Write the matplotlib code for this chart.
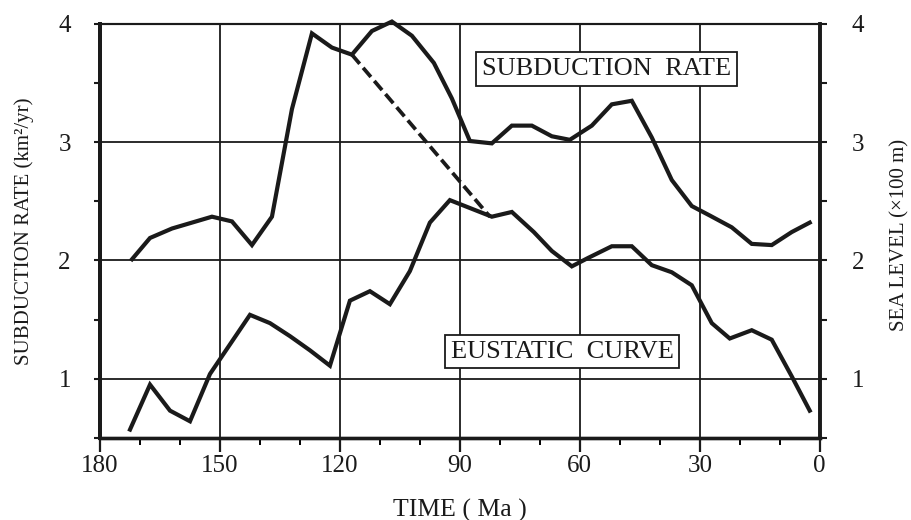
import numpy as np
import matplotlib
matplotlib.use("Agg")
import matplotlib.pyplot as plt
from matplotlib.ticker import MultipleLocator

plt.rcParams['font.family'] = ['Liberation Serif', 'DejaVu Serif']

# subduction rate (km2/yr), left axis
sub_age = [172, 167.5, 162, 152, 147, 142, 137, 132, 127, 122, 117, 112, 107,
           102, 96.5, 92, 87.5, 82, 77, 72, 67, 62.5, 57, 52, 47, 42, 37, 32,
           27.5, 22, 17, 12, 7, 2.5]
sub_rate = [2.01, 2.19, 2.27, 2.37, 2.33, 2.13, 2.37, 3.28, 3.92, 3.80, 3.74,
            3.94, 4.02, 3.90, 3.67, 3.37, 3.01, 2.99, 3.14, 3.14, 3.05, 3.02,
            3.14, 3.32, 3.35, 3.04, 2.68, 2.46, 2.38, 2.28, 2.14, 2.13, 2.24,
            2.32]

# eustatic curve, sea level (x100 m), right axis
sea_age = [172.5, 167.5, 162.5, 157.5, 152.5, 142.5, 137.5, 132.5, 127.5,
           122.5, 117.5, 112.5, 107.5, 102.5, 97.5, 92.5, 82, 77, 71.5, 67,
           62, 58, 52, 47, 42, 37, 32, 27, 22.5, 17, 12, 7, 2.5]
sea_level = [0.57, 0.95, 0.73, 0.64, 1.04, 1.54, 1.47, 1.36, 1.24, 1.11, 1.66,
             1.74, 1.63, 1.91, 2.32, 2.51, 2.37, 2.41, 2.24, 2.08, 1.95, 2.02,
             2.12, 2.12, 1.96, 1.90, 1.79, 1.47, 1.34, 1.41, 1.33, 1.02, 0.73]

# dashed link between the two curves
dash_age = [117, 82.5]
dash_val = [3.74, 2.37]

ink = '#1a1a1a'

fig = plt.figure(figsize=(9.11, 5.20), dpi=100)
ax = fig.add_axes([0.1098, 0.158, 0.790, 0.796])
ax2 = ax.twinx()

ax.set_xlim(180, 0)
ax.set_ylim(0.5, 4)
ax2.set_ylim(0.5, 4)

ax.plot(sub_age, sub_rate, color=ink, lw=3.0, solid_joinstyle='miter',
        clip_on=False, zorder=3)
ax2.plot(sea_age, sea_level, color=ink, lw=3.0, solid_joinstyle='miter',
         zorder=3)
ax.plot(dash_age, dash_val, color=ink, lw=2.7, ls=(0, (3.2, 1.4)), zorder=3)

ax.xaxis.set_major_locator(MultipleLocator(30))
ax.xaxis.set_minor_locator(MultipleLocator(10))
ax.set_xticks([180, 150, 120, 90, 60, 30, 0])
for a in (ax, ax2):
    a.set_yticks([1, 2, 3, 4])
    a.yaxis.set_minor_locator(MultipleLocator(0.5))

ax.grid(True, which='major', color=ink, lw=1.3)
ax.set_axisbelow(True)

ax.tick_params(axis='x', which='major', direction='out', length=10, width=1.6,
               pad=2, labelsize=18, colors=ink)
ax.tick_params(axis='x', which='minor', direction='out', length=5, width=1.4)
ax.tick_params(axis='y', which='both', direction='out', length=4, width=1.5,
               pad=17, labelsize=18, colors=ink)
ax2.tick_params(axis='y', which='both', direction='out', length=5, width=1.5,
                pad=18, labelsize=18, colors=ink)

for a in (ax, ax2):
    a.spines['left'].set_linewidth(2.8)
    a.spines['right'].set_linewidth(2.6)
    a.spines['bottom'].set_linewidth(2.4)
    a.spines['top'].set_linewidth(1.5)
    for s in a.spines.values():
        s.set_color(ink)

ax.set_xlabel('TIME ( Ma )', fontsize=18.5, color=ink)
ax.xaxis.label.set_va('center')
ax.xaxis.set_label_coords(0.5, -0.175)

ax.set_ylabel('SUBDUCTION RATE (km\u00b2/yr)', fontsize=15, color=ink)
ax.yaxis.label.set_va('center')
ax.yaxis.set_label_coords(-0.106, 0.5)

ax2.set_ylabel('SEA LEVEL (\u00d7100 m)', fontsize=15, color=ink)
ax2.yaxis.label.set_va('center')
ax2.yaxis.set_label_coords(1.111, 0.49)

box = dict(boxstyle='square,pad=0.22', facecolor='white', edgecolor=ink, lw=1.3)
ax.text(53.4, 3.62, 'SUBDUCTION  RATE', fontsize=19, ha='center', va='center',
        color=ink, bbox=box, zorder=4)
ax.text(64.4, 1.23, 'EUSTATIC  CURVE', fontsize=19, ha='center', va='center',
        color=ink, bbox=box, zorder=4)

fig.savefig('out.png', dpi=100, facecolor='white')
